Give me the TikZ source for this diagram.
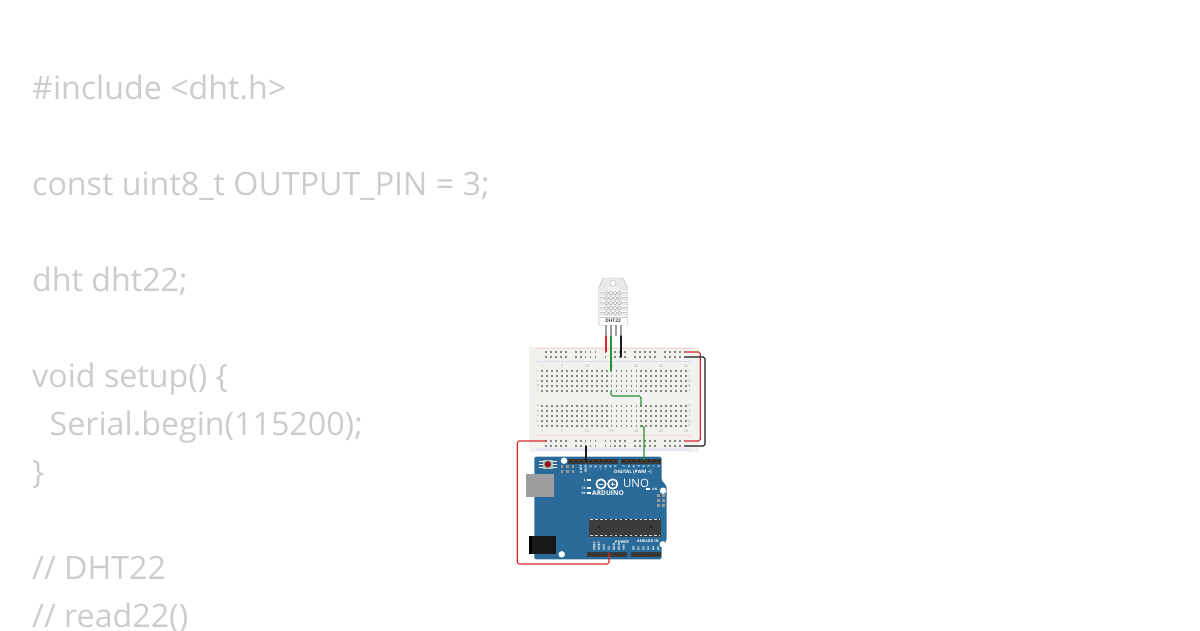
\documentclass[tikz,border=0pt]{standalone}
\usepackage{fontspec}
\setmainfont{Open Sans}
\definecolor{codegrey}{HTML}{CCCCCC}
\definecolor{boardblue}{HTML}{2B6B99}
\definecolor{bbfill}{HTML}{F1F1EE}
\definecolor{wirered}{HTML}{D8282F}
\definecolor{wiregreen}{HTML}{2A9134}
\definecolor{wireblack}{HTML}{1A1A24}
\definecolor{chipdark}{HTML}{3B3B3B}
\definecolor{dhtbody}{HTML}{E9E9E9}
\tikzset{
 codeline/.style={anchor=base west,inner sep=0pt,text=codegrey,font=\fontsize{32.2}{34}\selectfont},
 wire/.style={line width=1.15pt,rounded corners=1.6pt,line cap=round},
 hole/.style={fill=black!48,draw=none},
 tiny/.style={inner sep=0pt,text=white,font=\bfseries\fontsize{3.2}{3.4}\selectfont},
 bbnum/.style={inner sep=0pt,text=black!40,font=\fontsize{3.4}{4}\selectfont},
 hdr/.style={fill=chipdark,draw=none},
 mount/.style={circle,fill=white,draw=none,minimum size=6.4pt,inner sep=0pt},
 dhtpin/.style={line width=1.2pt,draw=black!38},
}
\begin{document}
\begin{tikzpicture}[x=1pt,y=-1pt]
\useasboundingbox (0,0) rectangle (1200,630);
% code
\node[codeline] (c1) at (32,99.5) {\#include <dht.h>};
\node[codeline] (c2) at (32,195.5) {const uint8\_t OUTPUT\_PIN = 3;};
\node[codeline] (c3) at (32,291.5) {dht dht22;};
\node[codeline] (c4) at (32,387.5) {void setup() \{};
\node[codeline] (c5) at (49.5,435.5) {Serial.begin(115200);};
\node[codeline] (c6) at (32,483.5) {\}};
\node[codeline] (c7) at (32,579.5) {// DHT22};
\node[codeline] (c8) at (32,627.5) {// read22()};
% breadboard
\fill[bbfill] (529,346.5) rectangle (698.5,452);
\fill[black!5] (529,397) rectangle (698.5,400.5);
\draw[red!18,line width=.4pt] (536,348.3) -- (692,348.3) (536,435.5) -- (692,435.5);
\draw[blue!14,line width=.4pt] (536,361.5) -- (692,361.5) (536,449.5) -- (692,449.5);
\foreach \g in {0,1,2,3,4}\foreach \i in {0,...,4}{
 \pgfmathsetmacro\hx{546+29.7*\g+4.95*\i}
 \foreach \hy in {352,357,441,446}{\fill[hole] (\hx-.85,\hy-.85) rectangle (\hx+.85,\hy+.85);}
}
\foreach \c in {0,...,29}{
 \pgfmathsetmacro\hx{542.3+4.95*\c}
 \foreach \hy in {370.8,375.8,380.9,386,391,405.8,410.9,416,421,426}{\fill[hole] (\hx-.85,\hy-.85) rectangle (\hx+.85,\hy+.85);}
}
\foreach \n in {1,5,10,15,20,25,30}{
 \pgfmathsetmacro\hx{542.3+4.95*(\n-1)}
 \node[bbnum] at (\hx,366) {\n};
 \node[bbnum] at (\hx,431) {\n};
}
\foreach \l/\hy in {j/370.8,i/375.8,h/380.9,g/386,f/391,e/405.8,d/410.9,c/416,b/421,a/426}{
 \node[bbnum] at (537.7,\hy) {\l};
 \node[bbnum] at (689.6,\hy) {\l};
}
% DHT22
\filldraw[fill=dhtbody,draw=black!28,line width=.4pt,even odd rule] (603,278) -- (623,278) -- (627.5,288) -- (627.5,325) -- (598.5,325) -- (598.5,288) -- cycle (616,283.3) arc[start angle=0,end angle=360,radius=3];
\foreach \hy in {290,295,300,305,310,315}{
 \fill[white] (599.5,\hy+.6) rectangle (626.5,\hy+1.7);
 \fill[black!22] (599.5,\hy+1.7) rectangle (626.5,\hy+2.2);
}
\fill[white] (599.5,318) rectangle (626.5,325);
\foreach \hy in {293,298,303,308,313}{
 \foreach \hx in {606.5,610.8,615.2,619.5}{
  \draw[black!38,fill=white,line width=.35pt] (\hx,\hy) circle (1.9);
 }
}
\foreach \hx in {608,611,614,617}{\draw[white,line width=.8pt] (\hx,286.5) -- (\hx,291);}
\node[inner sep=0pt,text=black!75,font=\bfseries\fontsize{4.8}{5}\selectfont] (dhtlabel) at (613,320.8) {DHT22};
\coordinate (p1a) at (606,325); \coordinate (p1b) at (606,336);
\coordinate (p2a) at (611,325); \coordinate (p2b) at (611,336);
\coordinate (p3a) at (616,325); \coordinate (p3b) at (616,336);
\coordinate (p4a) at (621,325); \coordinate (p4b) at (621,336);
\draw[dhtpin] (p1a) -- (p1b); \draw[dhtpin] (p2a) -- (p2b); \draw[dhtpin] (p3a) -- (p3b); \draw[dhtpin] (p4a) -- (p4b);
% Arduino
\fill[boardblue,rounded corners=1.5pt] (534.3,456.5) -- (661.5,456.5) -- (661.5,480) -- (666.5,486) -- (666.5,541) -- (661.5,547) -- (661.5,559.3) -- (534.3,559.3) -- cycle;
\foreach \a/\b in {568/617.7,621/660.7}{\fill[hdr] (\a,459) rectangle (\b,463.6);}
\foreach \a/\b in {586.7/626.7,630.7/660.5}{\fill[hdr] (\a,552.3) rectangle (\b,556.8);}
\foreach \c in {0,...,9}{\pgfmathsetmacro\hx{571+4.95*\c}\fill[black!85] (\hx-.9,460.4) rectangle (\hx+.9,462.2);}
\foreach \c in {0,...,7}{\pgfmathsetmacro\hx{624+4.95*\c}\fill[black!85] (\hx-.9,460.4) rectangle (\hx+.9,462.2);}
\foreach \c in {0,...,7}{\pgfmathsetmacro\hx{589.2+4.95*\c}\fill[black!85] (\hx-.9,553.6) rectangle (\hx+.9,555.4);}
\foreach \c in {0,...,5}{\pgfmathsetmacro\hx{633.5+4.95*\c}\fill[black!85] (\hx-.9,553.6) rectangle (\hx+.9,555.4);}
% chip
\fill[chipdark] (589,519) rectangle (661,536.7);
\draw[white!85!black,line width=.9pt,dash pattern=on 2.6pt off 2.35pt] (590,519.8) -- (660,519.8) (590,535.9) -- (660,535.9);
\fill[black!85] (599,527) circle (1.6) (651,527) circle (1.6);
% usb and power
\fill[black!38] (526,474) rectangle (554.3,496.7);
\fill[black] (529,535.7) rectangle (534,554.3);
\fill[black!90] (532,535.7) rectangle (556,554.3);
% reset
\foreach \hy in {461.3,464.3,467.3}{
 \draw[white,line width=.9pt] (538.5,\hy) -- (542.5,\hy) (553,\hy) -- (557,\hy);
}
\fill[black!25] (543,459.5) rectangle (552.5,469);
\fill[black!70] (547.8,464.3) circle (3.4);
\fill[red!70!black] (547.8,464.3) circle (2.4);
% icsp
\foreach \hx in {562,567.7,573}\foreach \hy in {466.7,471.3}{\fill[black!40] (\hx-1.3,\hy-1.3) rectangle (\hx+1.3,\hy+1.3);}
\foreach \hx in {658.5,663.5}\foreach \hy in {495.5,500.5,505.5}{\fill[black!40] (\hx-1.5,\hy-1.5) rectangle (\hx+1.5,\hy+1.5);}
% mounting holes
\node[mount] (m1) at (564,460.7) {};
\node[mount] (m2) at (663,490.7) {};
\node[mount] (m3) at (561.7,554.3) {};
\node[mount] (m4) at (662.7,544.3) {};
% logo
\draw[white,line width=1.6pt] (601,484) circle (4.7) (612.7,484) circle (4.7);
\draw[white,line width=.6pt] (599,484) -- (603,484) (610.7,484) -- (614.7,484) (612.7,482) -- (612.7,486);
\node[inner sep=0pt,text=white,font=\bfseries\fontsize{6.6}{7}\selectfont] (ard) at (608,493.3) {ARDUINO};
\node[inner sep=0pt,text=white,font=\fontsize{11.5}{12}\selectfont] (uno) at (636,483.3) {UNO};
\node[inner sep=0pt,text=white,font=\bfseries\fontsize{4.6}{5}\selectfont,anchor=east] (digi) at (652,472.3) {DIGITAL (PWM \textasciitilde)};
\node[tiny,font=\bfseries\fontsize{3.8}{4}\selectfont] (power) at (622,541.7) {POWER};
\node[tiny,font=\bfseries\fontsize{3.8}{4}\selectfont] (analog) at (648,541.4) {ANALOG IN};
% leds
\foreach \hy/\t in {480/L,488/TX,493/RX}{
 \fill[white] (587.2,\hy-1) rectangle (591,\hy+1);
 \node[tiny,anchor=east] at (586,\hy) {\t};
}
\fill[white] (646.2,488) rectangle (650,490);
\node[tiny,anchor=west] at (652,489) {ON};
% pin labels
\foreach \c/\t in {2/AREF,3/GND,4/13,5/12,6/\textasciitilde 11,7/\textasciitilde 10,8/\textasciitilde 9,9/8}{
 \pgfmathsetmacro\hx{571+4.95*\c}
 \node[tiny,rotate=90,anchor=east] at (\hx,465) {\t};
}
\foreach \c/\t in {0/7,1/\textasciitilde 6,2/\textasciitilde 5,3/4,4/\textasciitilde 3,5/2,6/1,7/0}{
 \pgfmathsetmacro\hx{624+4.95*\c}
 \node[tiny,rotate=90,anchor=east] at (\hx,465) {\t};
}
\foreach \c/\t in {1/IOREF,2/RESET,3/3.3V,4/5V,5/GND,6/GND,7/VIN}{
 \pgfmathsetmacro\hx{589.2+4.95*\c}
 \node[tiny,rotate=90,anchor=west] at (\hx,551) {\t};
}
\foreach \c/\t in {0/A0,1/A1,2/A2,3/A3,4/A4,5/A5}{
 \pgfmathsetmacro\hx{633.5+4.95*\c}
 \node[tiny,rotate=90,anchor=west] at (\hx,551) {\t};
}
% wires
\coordinate (tr1) at (685,352); \coordinate (br1) at (685,441);
\coordinate (tr2) at (685,357); \coordinate (br2) at (685,446);
\coordinate (h1) at (606,352); \coordinate (h4) at (621,357);
\coordinate (h2) at (611,371); \coordinate (h5) at (611,391);
\coordinate (h6) at (641,406); \coordinate (h7) at (641.5,426);
\coordinate (d3) at (644,460); \coordinate (gnd) at (586,460);
\coordinate (h8) at (586,446); \coordinate (h9) at (546,441);
\coordinate (v5) at (609,553);
\draw[wire,wirered] (p1b) -- (h1);
\draw[wire,wiregreen] (p2b) -- (h2);
\draw[wire,wireblack] (p4b) -- (h4);
\draw[wire,wirered] (tr1) -- (700.2,352) -- (700.2,441) -- (br1);
\draw[wire,wireblack] (tr2) -- (705,357) -- (705,446) -- (br2);
\draw[wire,wiregreen] (h5) -- (611,396) -- (641,396) -- (h6);
\draw[wire,wiregreen] (h7) -- (644,426) -- (d3);
\draw[wire,wireblack] (h8) -- (gnd);
\draw[wire,wirered] (h9) -- (517.3,441) -- (517.3,564) -- (609,564) -- (v5);
\end{tikzpicture}
\end{document}
